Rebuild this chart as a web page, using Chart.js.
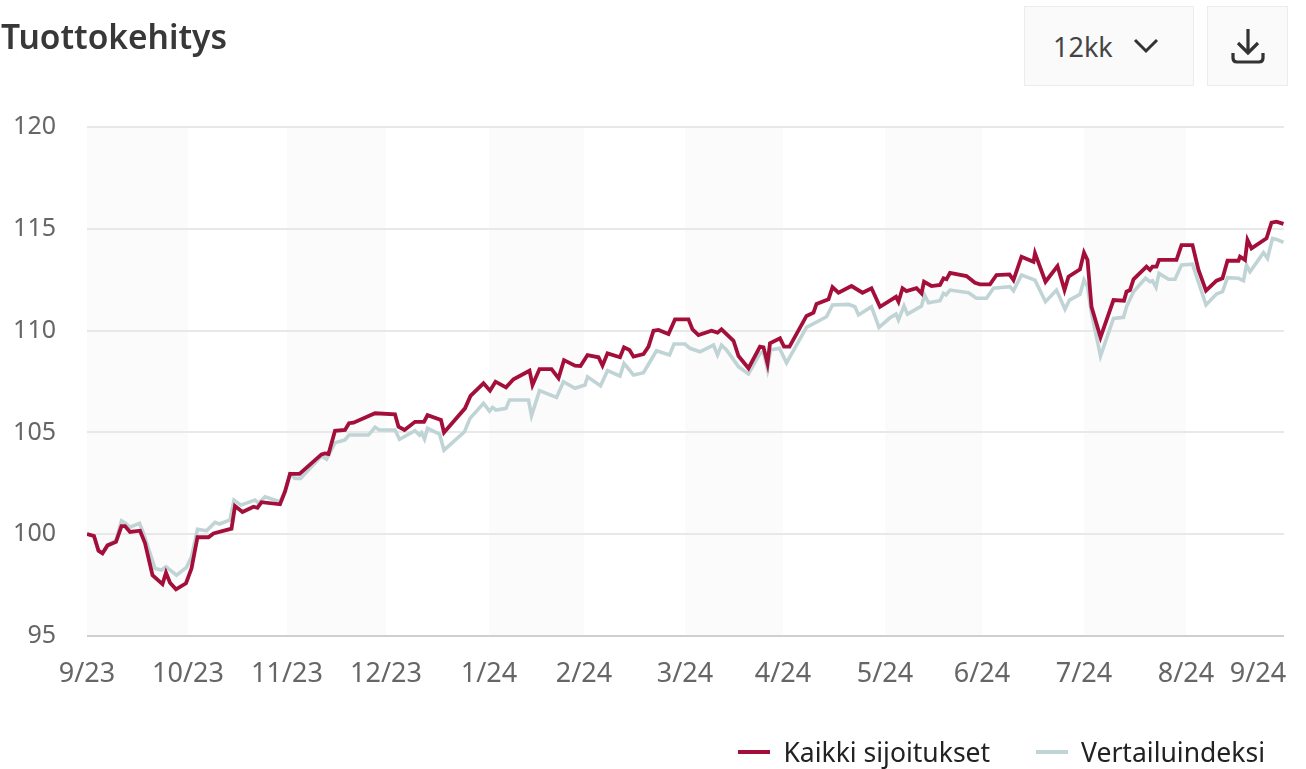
<!DOCTYPE html>
<html lang="fi">
<head>
<meta charset="utf-8">
<title>Tuottokehitys</title>
<script src="https://cdn.jsdelivr.net/npm/chart.js@4"></script>
<style>
    html, body { margin: 0; padding: 0; background: #fff; }
    body { width: 1306px; height: 769px; position: relative; overflow: hidden; font-family: "Noto Sans", sans-serif; }
    canvas { position: absolute; left: 0; top: 0; }
    h1 { position: absolute; left: 1px; top: 14px; margin: 0; font-size: 33.5px; font-weight: 600; color: #383838; line-height: 44px; z-index: 1; }
    .btn { position: absolute; top: 6px; height: 80px; box-sizing: border-box; background: #fafafa; border: 1.5px solid #ececec; display: flex; align-items: center; color: #444; font-size: 27px; z-index: 1; }
    .range { left: 1024px; width: 170px; gap: 20px; padding-left: 28px; }
    .save { left: 1207px; width: 81px; justify-content: center; }
    #legend { position: absolute; right: 41px; top: 733px; display: flex; gap: 46px; font-size: 26.5px; line-height: 38px; color: #222; z-index: 1; }
    #legend div { display: flex; align-items: center; gap: 13px; }
    #legend i { display: block; width: 32px; height: 4px; }
</style>
</head>
<body>
<h1>Tuottokehitys</h1>
<div class="btn range">
    <span>12kk</span>
    <svg width="26" height="16" viewBox="0 0 26 16"><path d="M2 2 L13 13 L24 2" fill="none" stroke="#333" stroke-width="3"/></svg>
</div>
<div class="btn save">
    <svg width="34" height="36" viewBox="0 0 34 36"><path d="M17 1 V24 M7 15 L17 25 L27 15 M2 25 V30 Q2 34 6 34 H28 Q32 34 32 30 V25" fill="none" stroke="#333" stroke-width="3.2"/></svg>
</div>
<canvas id="chart" width="1306" height="769"></canvas>
<div id="legend"></div>
<script>
// Data. x is a running market day, 0 = start of the period
const xMax = 239.4;
const tickDays = [0, 20.2, 40, 59.8, 80.4, 99.4, 119.6, 139.2, 159.6, 179, 199.4, 219.8, 234.2];
const tickLabels = ["9/23", "10/23", "11/23", "12/23", "1/24", "2/24", "3/24", "4/24", "5/24", "6/24", "7/24", "8/24", "9/24"];
const yTicks = [95, 100, 105, 110, 115, 120];

const seriesNames = ["Kaikki sijoitukset", "Vertailuindeksi"];
const seriesColors = ["#a30f3a", "#c0d4d6"];

const portfolioDays = [0, 1.4, 2.3, 3.1, 4.1, 5.8, 6.9, 7.6, 8.6, 10.6, 11.6, 13.1, 15.1, 15.8, 16.6, 17.8, 19.8, 20.9, 22.1, 24.3, 25.3, 28.9, 29.6, 31.1, 33.3, 34.1, 34.9, 38.6, 39.6, 40.6, 42.5, 46.9, 47.6, 48.3, 49.6, 51.6, 52.4, 53.3, 57.6, 61.6, 62.3, 63.5, 65.6, 67.4, 68.1, 70.8, 71.4, 75.6, 76.7, 79.3, 80.6, 81.7, 83.8, 85.3, 88.5, 89.1, 90.5, 92.9, 94.3, 95.4, 97.6, 98.7, 100.1, 102.3, 103.1, 104.1, 106.6, 107.4, 108.5, 109.3, 111.3, 112.3, 113.3, 114.3, 116.3, 117.6, 120.3, 121.1, 122.3, 124.9, 126.1, 126.9, 129.3, 130.3, 132.3, 134.6, 135.3, 136.1, 136.6, 138.6, 139.4, 140.5, 143.9, 145.3, 145.9, 148.3, 149.1, 150.3, 152.9, 155.1, 156.9, 158.6, 161.8, 162.3, 163.1, 163.9, 165.9, 166.9, 167.4, 168.9, 170.6, 171.3, 171.9, 172.6, 175.9, 177.6, 178.6, 180.6, 181.9, 184.5, 185.3, 186.9, 189.3, 189.6, 191.7, 194.1, 195.5, 196.3, 198.6, 199.4, 200.1, 200.9, 202.7, 205.3, 207.4, 207.9, 208.6, 209.3, 211.9, 212.6, 213.1, 213.9, 214.4, 217.9, 218.9, 221.1, 222.3, 223.8, 225.9, 227.1, 228.1, 230.3, 230.6, 231.6, 232.1, 232.9, 235.9, 236.9, 237.9, 239.3];
const portfolioValues = [100.01, 99.91, 99.19, 99.06, 99.45, 99.62, 100.40, 100.40, 100.11, 100.17, 99.57, 97.99, 97.55, 98.11, 97.62, 97.29, 97.59, 98.32, 99.85, 99.85, 100.04, 100.27, 101.38, 101.09, 101.35, 101.30, 101.57, 101.47, 102.09, 102.96, 102.96, 103.92, 103.97, 103.94, 105.08, 105.12, 105.45, 105.48, 105.94, 105.89, 105.28, 105.12, 105.52, 105.52, 105.85, 105.61, 105.00, 106.18, 106.79, 107.41, 107.05, 107.49, 107.21, 107.61, 108.03, 107.33, 108.11, 108.11, 107.66, 108.55, 108.28, 108.26, 108.80, 108.69, 108.28, 108.88, 108.69, 109.18, 109.05, 108.72, 108.85, 109.21, 109.99, 110.03, 109.83, 110.55, 110.55, 110.06, 109.78, 109.99, 109.90, 110.06, 109.50, 108.75, 108.15, 109.21, 109.18, 108.39, 109.38, 109.62, 109.21, 109.21, 110.72, 110.88, 111.31, 111.54, 112.13, 111.86, 112.19, 111.86, 112.08, 111.17, 111.66, 111.42, 112.08, 111.94, 112.08, 111.83, 112.40, 112.19, 112.24, 112.57, 112.52, 112.84, 112.68, 112.35, 112.27, 112.27, 112.73, 112.76, 112.48, 113.63, 113.38, 113.80, 112.40, 113.17, 111.99, 112.65, 113.01, 113.83, 113.47, 111.17, 109.67, 111.50, 111.47, 111.91, 111.99, 112.52, 113.14, 112.98, 113.14, 113.14, 113.47, 113.47, 114.20, 114.20, 112.98, 111.96, 112.45, 112.57, 113.43, 113.43, 113.63, 113.47, 114.45, 114.04, 114.53, 115.30, 115.35, 115.24];

const benchmarkDays = [0, 1.4, 2.3, 3.1, 4.1, 5.8, 6.9, 7.6, 8.6, 10.5, 11.3, 13.6, 14.9, 15.8, 17.9, 19.9, 20.9, 22.1, 23.9, 25.6, 26.5, 28.6, 29.4, 30.8, 33.6, 34.3, 35.6, 38.6, 39.6, 40.6, 41.6, 42.7, 46.9, 47.9, 49.6, 51.6, 52.4, 56.3, 57.6, 58.5, 61.6, 62.5, 65.6, 66.5, 66.9, 67.5, 68.1, 70.5, 71.4, 75.5, 76.6, 79.3, 80.5, 81.1, 81.8, 83.8, 84.5, 88.3, 88.9, 90.5, 93.9, 95.3, 97.6, 99.6, 100.1, 102.7, 104.1, 106.6, 107.4, 109.3, 111.3, 113.9, 116.5, 117.4, 119.6, 120.6, 122.6, 125.3, 126.1, 126.9, 127.9, 130.3, 132.3, 134.6, 135.3, 136.1, 136.7, 138.5, 139.9, 143.9, 147.9, 149.1, 152.3, 153.6, 154.3, 156.9, 158.4, 160.6, 161.8, 162.3, 163.4, 164.1, 166.9, 167.5, 168.3, 170.6, 171.3, 171.8, 172.6, 176.3, 177.9, 179.9, 181.3, 184.6, 185.3, 186.9, 189.6, 191.7, 193.9, 195.6, 196.5, 198.6, 199.4, 200.1, 200.9, 202.7, 205.3, 207.3, 207.9, 209.3, 211.7, 212.6, 213.1, 213.8, 214.4, 216.3, 217.6, 218.9, 221.1, 223.8, 225.9, 227.1, 228.1, 230.3, 231.3, 231.9, 232.6, 235.3, 236.1, 237.1, 237.9, 239.3];
const benchmarkValues = [100.01, 99.91, 99.19, 99.06, 99.45, 99.70, 100.66, 100.55, 100.34, 100.53, 100.04, 98.32, 98.24, 98.40, 97.99, 98.37, 98.89, 100.24, 100.17, 100.58, 100.50, 100.70, 101.68, 101.43, 101.68, 101.52, 101.84, 101.59, 102.15, 102.96, 102.74, 102.74, 103.84, 103.68, 104.49, 104.63, 104.87, 104.87, 105.25, 105.12, 105.12, 104.66, 105.08, 104.87, 104.98, 104.67, 105.20, 104.92, 104.13, 105.03, 105.69, 106.43, 106.05, 106.23, 106.10, 106.18, 106.59, 106.59, 105.82, 107.05, 106.72, 107.49, 107.17, 107.33, 107.73, 107.29, 108.03, 107.77, 108.39, 107.82, 107.93, 109.01, 108.80, 109.34, 109.34, 109.13, 108.96, 109.29, 108.80, 109.29, 109.05, 108.23, 107.87, 108.88, 108.96, 108.10, 109.05, 109.13, 108.42, 110.16, 110.68, 111.26, 111.29, 111.17, 110.77, 111.17, 110.16, 110.63, 110.81, 110.52, 111.21, 110.81, 111.21, 111.75, 111.37, 111.47, 111.83, 111.75, 111.99, 111.86, 111.59, 111.59, 112.08, 112.16, 111.96, 112.73, 112.48, 111.42, 111.99, 111.05, 111.50, 111.78, 112.48, 112.16, 110.85, 108.75, 110.60, 110.65, 111.17, 111.91, 112.57, 112.40, 112.45, 112.13, 112.81, 112.52, 112.52, 113.22, 113.26, 111.26, 111.80, 111.91, 112.60, 112.57, 112.45, 113.22, 112.89, 113.83, 113.55, 114.53, 114.48, 114.34];

function toPoints(days, values) {
    return days.map((d, i) => ({ x: d, y: values[i] }));
}

// Legend
seriesNames.forEach((name, i) => {
    const div = document.createElement("div");
    div.innerHTML = `<i style="background:${seriesColors[i]}"></i><span>${name}</span>`;
    document.getElementById("legend").appendChild(div);
});

// Grey bands behind every other month
const monthBands = {
    id: "monthBands",
    beforeDraw(chart) {
        const { ctx, chartArea, scales } = chart;
        ctx.save();
        ctx.fillStyle = "#fbfbfb";
        for (let i = 0; i < tickDays.length - 1; i += 2) {
            const from = scales.x.getPixelForValue(tickDays[i]);
            const to = scales.x.getPixelForValue(i + 1 === tickDays.length - 1 ? xMax : tickDays[i + 1]);
            ctx.fillRect(from, chartArea.top, to - from, chartArea.height);
        }
        ctx.restore();
    }
};

new Chart(document.getElementById("chart"), {
    type: "line",
    data: {
        datasets: [
            {
                label: seriesNames[0],
                data: toPoints(portfolioDays, portfolioValues),
                borderColor: seriesColors[0],
                borderWidth: 3.8,
                pointRadius: 0,
                tension: 0
            },
            {
                label: seriesNames[1],
                data: toPoints(benchmarkDays, benchmarkValues),
                borderColor: seriesColors[1],
                borderWidth: 3.6,
                pointRadius: 0,
                tension: 0
            }
        ]
    },
    options: {
        responsive: false,
        animation: false,
        layout: { padding: { top: 127, right: 22, left: 0, bottom: 0 } },
        scales: {
            x: {
                type: "linear",
                min: 0,
                max: xMax,
                grid: { display: false },
                border: { display: false },
                afterBuildTicks(axis) {
                    axis.ticks = tickDays.map(v => ({ value: v }));
                },
                afterFit(axis) { axis.height = 133; },
                ticks: {
                    autoSkip: false,
                    maxRotation: 0,
                    padding: 14,
                    color: "#666",
                    font: { family: "Noto Sans", size: 27 },
                    callback: (value) => tickLabels[tickDays.indexOf(value)]
                }
            },
            y: {
                min: 95,
                max: 120,
                afterBuildTicks(axis) {
                    axis.ticks = yTicks.map(v => ({ value: v }));
                },
                afterFit(axis) { axis.width = 87; },
                grid: {
                    drawTicks: false,
                    lineWidth: 2,
                    color: (c) => c.tick.value === 95 ? "#cfcfcf" : "#e8e8e8"
                },
                border: { display: false },
                ticks: {
                    padding: 31,
                    color: "#666",
                    font: { family: "Noto Sans", size: 25 }
                }
            }
        },
        plugins: {
            tooltip: { enabled: false },
            legend: { display: false }
        }
    },
    plugins: [monthBands]
});
</script>
</body>
</html>
